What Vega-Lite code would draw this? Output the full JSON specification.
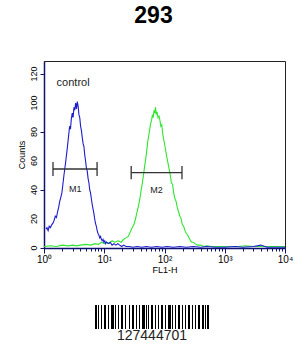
{
  "$schema": "https://vega.github.io/schema/vega-lite/v6.json",
  "background": "white",
  "padding": {"left": 17, "top": 4, "right": 0, "bottom": 0},
  "spacing": 57,
  "bounds": "flush",
  "config": {"font": "Liberation Sans", "view": {"stroke": null}},
  "datasets": {
    "curves": [
      {"s":"control","fl":1.08,"c":13},{"s":"control","fl":1.12,"c":14},{"s":"control","fl":1.17,"c":12},{"s":"control","fl":1.22,"c":15},{"s":"control","fl":1.28,"c":14},{"s":"control","fl":1.34,"c":16},{"s":"control","fl":1.4,"c":17},{"s":"control","fl":1.47,"c":19},{"s":"control","fl":1.54,"c":22},{"s":"control","fl":1.61,"c":21},{"s":"control","fl":1.68,"c":25},{"s":"control","fl":1.75,"c":28},{"s":"control","fl":1.82,"c":32},{"s":"control","fl":1.9,"c":35},{"s":"control","fl":1.98,"c":38},{"s":"control","fl":2.06,"c":44},{"s":"control","fl":2.14,"c":50},{"s":"control","fl":2.22,"c":55},{"s":"control","fl":2.3,"c":60},{"s":"control","fl":2.39,"c":66},{"s":"control","fl":2.48,"c":72},{"s":"control","fl":2.57,"c":78},{"s":"control","fl":2.66,"c":84},{"s":"control","fl":2.75,"c":82},{"s":"control","fl":2.84,"c":89},{"s":"control","fl":2.94,"c":93},{"s":"control","fl":3.04,"c":90},{"s":"control","fl":3.14,"c":97},{"s":"control","fl":3.24,"c":95},{"s":"control","fl":3.35,"c":100},{"s":"control","fl":3.46,"c":96},{"s":"control","fl":3.57,"c":101},{"s":"control","fl":3.68,"c":98},{"s":"control","fl":3.8,"c":92},{"s":"control","fl":3.92,"c":90},{"s":"control","fl":4.05,"c":84},{"s":"control","fl":4.18,"c":81},{"s":"control","fl":4.32,"c":76},{"s":"control","fl":4.46,"c":72},{"s":"control","fl":4.6,"c":70},{"s":"control","fl":4.75,"c":64},{"s":"control","fl":4.9,"c":60},{"s":"control","fl":5.06,"c":55},{"s":"control","fl":5.22,"c":53},{"s":"control","fl":5.39,"c":48},{"s":"control","fl":5.56,"c":45},{"s":"control","fl":5.74,"c":40},{"s":"control","fl":5.92,"c":38},{"s":"control","fl":6.11,"c":34},{"s":"control","fl":6.31,"c":30},{"s":"control","fl":6.51,"c":27},{"s":"control","fl":6.72,"c":24},{"s":"control","fl":6.94,"c":20},{"s":"control","fl":7.16,"c":17},{"s":"control","fl":7.39,"c":15},{"s":"control","fl":7.63,"c":12},{"s":"control","fl":7.88,"c":10},{"s":"control","fl":8.13,"c":9},{"s":"control","fl":8.4,"c":7},{"s":"control","fl":8.67,"c":8},{"s":"control","fl":8.95,"c":6},{"s":"control","fl":9.24,"c":5},{"s":"control","fl":9.54,"c":6},{"s":"control","fl":9.85,"c":4},{"s":"control","fl":10.2,"c":5},{"s":"control","fl":10.5,"c":3},{"s":"control","fl":10.9,"c":4},{"s":"control","fl":11.6,"c":3},{"s":"control","fl":12.5,"c":4},{"s":"control","fl":13.5,"c":2},{"s":"control","fl":14.5,"c":3},{"s":"control","fl":15.6,"c":2},{"s":"control","fl":16.8,"c":3},{"s":"control","fl":18,"c":2},{"s":"control","fl":19.5,"c":1},{"s":"control","fl":21,"c":2},{"s":"control","fl":23,"c":1},{"s":"control","fl":26,"c":1},{"s":"control","fl":30,"c":0.5},{"s":"control","fl":35,"c":1},{"s":"control","fl":42,"c":0.5},{"s":"control","fl":50,"c":1},{"s":"control","fl":60,"c":0.5},{"s":"control","fl":75,"c":1},{"s":"control","fl":90,"c":0.5},{"s":"control","fl":110,"c":1},{"s":"control","fl":140,"c":0.5},{"s":"control","fl":180,"c":1},{"s":"control","fl":230,"c":0.5},{"s":"control","fl":300,"c":1},{"s":"control","fl":400,"c":0.5},{"s":"control","fl":500,"c":1},{"s":"control","fl":700,"c":0.5},{"s":"control","fl":1000,"c":0.5},{"s":"control","fl":1500,"c":1},{"s":"control","fl":2000,"c":0.5},{"s":"control","fl":3000,"c":1},{"s":"control","fl":4000,"c":2},{"s":"control","fl":5000,"c":0.5},{"s":"control","fl":7000,"c":0.5},{"s":"control","fl":10000,"c":0.5},
      {"s":"293","fl":1.0,"c":1},{"s":"293","fl":1.3,"c":1.5},{"s":"293","fl":1.6,"c":1},{"s":"293","fl":2.0,"c":2},{"s":"293","fl":2.5,"c":1.5},{"s":"293","fl":3.0,"c":2},{"s":"293","fl":3.5,"c":1.5},{"s":"293","fl":4.0,"c":2},{"s":"293","fl":5.0,"c":2.5},{"s":"293","fl":6.0,"c":2},{"s":"293","fl":7.0,"c":3},{"s":"293","fl":8.0,"c":2.5},{"s":"293","fl":9.0,"c":4},{"s":"293","fl":10,"c":3},{"s":"293","fl":11,"c":4},{"s":"293","fl":12,"c":3},{"s":"293","fl":13.5,"c":5},{"s":"293","fl":15,"c":4},{"s":"293","fl":17,"c":5},{"s":"293","fl":19,"c":4},{"s":"293","fl":21,"c":6},{"s":"293","fl":23,"c":7},{"s":"293","fl":25,"c":8},{"s":"293","fl":27,"c":11},{"s":"293","fl":29,"c":14},{"s":"293","fl":31,"c":16},{"s":"293","fl":33,"c":20},{"s":"293","fl":35,"c":25},{"s":"293","fl":37,"c":29},{"s":"293","fl":39,"c":34},{"s":"293","fl":41,"c":40},{"s":"293","fl":43,"c":45},{"s":"293","fl":45,"c":51},{"s":"293","fl":47,"c":57},{"s":"293","fl":49,"c":62},{"s":"293","fl":51,"c":68},{"s":"293","fl":53,"c":74},{"s":"293","fl":55,"c":78},{"s":"293","fl":57,"c":82},{"s":"293","fl":59,"c":86},{"s":"293","fl":61,"c":88},{"s":"293","fl":63,"c":92},{"s":"293","fl":65,"c":90},{"s":"293","fl":67,"c":95},{"s":"293","fl":69,"c":93},{"s":"293","fl":71,"c":97},{"s":"293","fl":73,"c":92},{"s":"293","fl":75,"c":94},{"s":"293","fl":78,"c":90},{"s":"293","fl":81,"c":91},{"s":"293","fl":84,"c":88},{"s":"293","fl":87,"c":84},{"s":"293","fl":90,"c":85},{"s":"293","fl":94,"c":78},{"s":"293","fl":98,"c":74},{"s":"293","fl":102,"c":70},{"s":"293","fl":106,"c":66},{"s":"293","fl":110,"c":62},{"s":"293","fl":115,"c":58},{"s":"293","fl":120,"c":54},{"s":"293","fl":125,"c":50},{"s":"293","fl":130,"c":45},{"s":"293","fl":136,"c":44},{"s":"293","fl":142,"c":38},{"s":"293","fl":149,"c":34},{"s":"293","fl":156,"c":32},{"s":"293","fl":163,"c":28},{"s":"293","fl":171,"c":25},{"s":"293","fl":180,"c":22},{"s":"293","fl":189,"c":20},{"s":"293","fl":198,"c":16},{"s":"293","fl":208,"c":15},{"s":"293","fl":219,"c":12},{"s":"293","fl":230,"c":10},{"s":"293","fl":242,"c":9},{"s":"293","fl":255,"c":7},{"s":"293","fl":270,"c":5},{"s":"293","fl":285,"c":4},{"s":"293","fl":300,"c":4},{"s":"293","fl":320,"c":3},{"s":"293","fl":350,"c":2},{"s":"293","fl":400,"c":2},{"s":"293","fl":450,"c":1},{"s":"293","fl":500,"c":1.5},{"s":"293","fl":600,"c":1},{"s":"293","fl":800,"c":1},{"s":"293","fl":1000,"c":1},{"s":"293","fl":1300,"c":1},{"s":"293","fl":1700,"c":1},{"s":"293","fl":2200,"c":1.5},{"s":"293","fl":3000,"c":1},{"s":"293","fl":4000,"c":1},{"s":"293","fl":6000,"c":1},{"s":"293","fl":8000,"c":1},{"s":"293","fl":10000,"c":1}
    ],
    "markers": [
      {"m":"M1","lo":1.41,"hi":7.6,"y":54.5,"ylo":49.7,"yhi":59.3,"lx":3.3,"ly":41},
      {"m":"M2","lo":28,"hi":195,"y":52,"ylo":47.4,"yhi":56.6,"lx":74,"ly":40}
    ],
    "labels": [{"t":"control","fl":1.62,"c":114}],
    "yticks": [{"v":0},{"v":20},{"v":40},{"v":60},{"v":80},{"v":100},{"v":120}],
    "barcode": [
      {"start":0,"end":2},{"start":3,"end":4},{"start":6,"end":7},{"start":9,"end":11},{"start":13,"end":14},{"start":16,"end":19},{"start":20,"end":21},{"start":23,"end":24},{"start":26,"end":28},{"start":30,"end":31},{"start":34,"end":35},{"start":37,"end":39},{"start":41,"end":42},{"start":44,"end":45},{"start":47,"end":50},{"start":51,"end":52},{"start":53,"end":54},{"start":56,"end":58},{"start":60,"end":61},{"start":63,"end":64},{"start":66,"end":68},{"start":70,"end":71},{"start":73,"end":76},{"start":77,"end":78},{"start":80,"end":81},{"start":83,"end":85},{"start":87,"end":88},{"start":90,"end":91},{"start":93,"end":95},{"start":97,"end":98},{"start":100,"end":101},{"start":103,"end":105},{"start":107,"end":109},{"start":110,"end":111},{"start":112,"end":114}
    ],
    "code": [{"t":"127444701","x":57,"y":35}]
  },
  "vconcat": [
    {
      "width": 241,
      "height": 187,
      "view": {"stroke": "#222", "strokeWidth": 1},
      "title": {"text": "293", "fontSize": 23, "fontWeight": "bold", "font": "Liberation Sans", "color": "black", "offset": 33, "dx": -11},
      "layer": [
        {
          "data": {"name": "curves"},
          "transform": [{"filter": "datum.s == '293'"}],
          "mark": {"type": "line", "color": "#2ee62e", "strokeWidth": 1.1},
          "encoding": {
            "x": {"field": "fl", "type": "quantitative", "scale": {"type": "log", "domain": [1, 10000], "nice": false},
              "axis": {"values": [1,2,3,4,5,6,7,8,9,10,20,30,40,50,60,70,80,90,100,200,300,400,500,600,700,800,900,1000,2000,3000,4000,5000,6000,7000,8000,9000,10000],
                "labelExpr": "datum.value == 1 ? '10⁰' : datum.value == 10 ? '10¹' : datum.value == 100 ? '10²' : datum.value == 1000 ? '10³' : datum.value == 10000 ? '10⁴' : ''",
                "tickSize": {"condition": {"test": "indexof([1,10,100,1000,10000], datum.value) >= 0", "value": 5}, "value": 3},
                "title": "FL1-H", "titleFontSize": 9, "titleFontWeight": "normal", "titlePadding": 1,
                "labelFontSize": 10, "labelOverlap": false, "labelFlush": false, "labelBound": false, "labelPadding": 1,
                "domainColor": "#10106e", "domainWidth": 1.5, "tickColor": "#10106e", "grid": false, "labelColor": "black", "titleColor": "black"}},
            "y": {"field": "c", "type": "quantitative", "scale": {"domain": [0, 129], "nice": false},
              "axis": {"values": [0,5,10,15,20,25,30,35,40,45,50,55,60,65,70,75,80,85,90,95,100,105,110,115,120,125],
                "labels": false,
                "tickSize": {"condition": {"test": "datum.value % 20 == 0", "value": 4}, "value": 2},
                "title": "Counts", "titleFontSize": 9, "titleFontWeight": "normal", "titlePadding": 13,
                "domainColor": "#10106e", "domainWidth": 1.5, "tickColor": "#10106e", "grid": false, "titleColor": "black"}}
          }
        },
        {
          "data": {"name": "yticks"},
          "mark": {"type": "text", "fontSize": 9, "color": "black", "angle": 270, "align": "center", "baseline": "alphabetic", "dy": -7},
          "encoding": {
            "x": {"datum": 1, "type": "quantitative"},
            "y": {"field": "v", "type": "quantitative"},
            "text": {"field": "v", "type": "quantitative"}
          }
        },
        {
          "data": {"name": "curves"},
          "transform": [{"filter": "datum.s == 'control'"}],
          "mark": {"type": "line", "color": "#1c1ccf", "strokeWidth": 1.1},
          "encoding": {
            "x": {"field": "fl", "type": "quantitative"},
            "y": {"field": "c", "type": "quantitative"}
          }
        },
        {
          "data": {"name": "markers"},
          "mark": {"type": "rule", "color": "#333", "strokeWidth": 1.3},
          "encoding": {
            "x": {"field": "lo", "type": "quantitative"},
            "x2": {"field": "hi"},
            "y": {"field": "y", "type": "quantitative"}
          }
        },
        {
          "data": {"name": "markers"},
          "mark": {"type": "rule", "color": "#333", "strokeWidth": 1.3},
          "encoding": {
            "x": {"field": "lo", "type": "quantitative"},
            "y": {"field": "ylo", "type": "quantitative"},
            "y2": {"field": "yhi"}
          }
        },
        {
          "data": {"name": "markers"},
          "mark": {"type": "rule", "color": "#333", "strokeWidth": 1.3},
          "encoding": {
            "x": {"field": "hi", "type": "quantitative"},
            "y": {"field": "ylo", "type": "quantitative"},
            "y2": {"field": "yhi"}
          }
        },
        {
          "data": {"name": "markers"},
          "mark": {"type": "text", "fontSize": 9, "color": "#222", "align": "center", "baseline": "middle"},
          "encoding": {
            "x": {"field": "lx", "type": "quantitative"},
            "y": {"field": "ly", "type": "quantitative"},
            "text": {"field": "m"}
          }
        },
        {
          "data": {"name": "labels"},
          "mark": {"type": "text", "fontSize": 11, "color": "#222", "align": "left", "baseline": "middle"},
          "encoding": {
            "x": {"field": "fl", "type": "quantitative"},
            "y": {"field": "c", "type": "quantitative"},
            "text": {"field": "t"}
          }
        }
      ]
    },
    {
      "width": 241,
      "height": 45,
      "view": {"stroke": null},
      "layer": [
        {
          "data": {"name": "barcode"},
          "mark": {"type": "rect", "color": "black"},
          "encoding": {
            "x": {"field": "start", "type": "quantitative", "scale": {"domain": [-51, 190], "nice": false, "zero": false}, "axis": null},
            "x2": {"field": "end"},
            "y": {"datum": 0, "type": "quantitative", "scale": {"domain": [0, 45], "reverse": true, "nice": false}, "axis": null},
            "y2": {"datum": 24}
          }
        },
        {
          "data": {"name": "code"},
          "mark": {"type": "text", "fontSize": 14, "color": "#222", "align": "center", "baseline": "alphabetic"},
          "encoding": {
            "x": {"field": "x", "type": "quantitative"},
            "y": {"field": "y", "type": "quantitative"},
            "text": {"field": "t"}
          }
        }
      ]
    }
  ]
}
